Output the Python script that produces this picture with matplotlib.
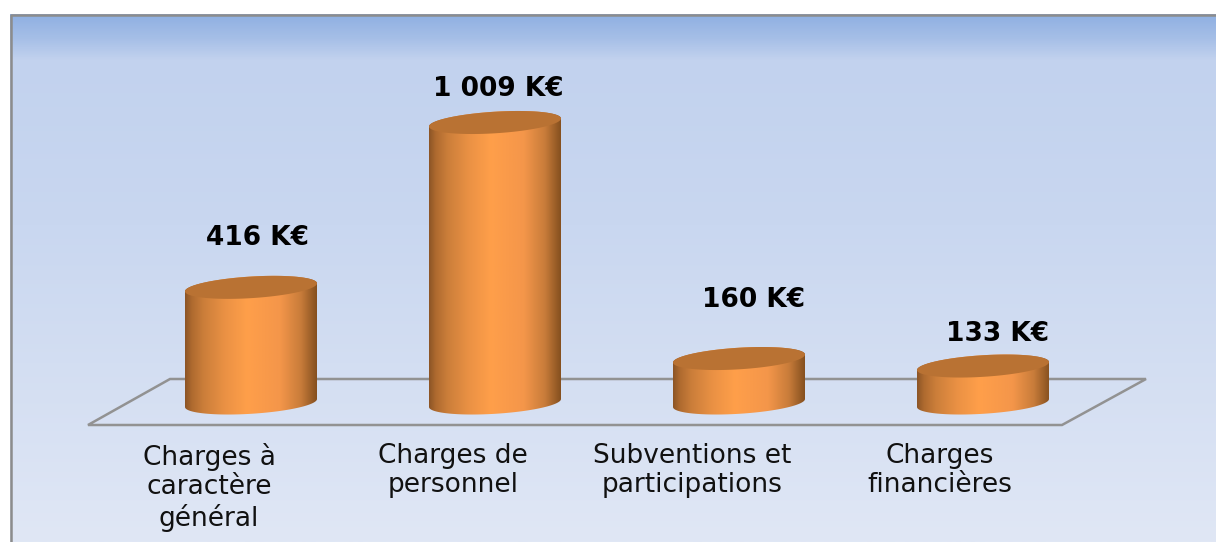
import matplotlib
matplotlib.use("Agg")
import matplotlib.pyplot as plt
import numpy as np
from matplotlib.colors import LinearSegmentedColormap
from matplotlib.patches import Polygon

# Chart data
categories = ["Charges à\ncaractère\ngénéral", "Charges de\npersonnel",
              "Subventions et\nparticipations", "Charges\nfinancières"]
values = [416, 1009, 160, 133]
value_labels = ["416 K€", "1 009 K€", "160 K€", "133 K€"]

plt.rcParams["font.family"] = ["DejaVu Sans"]

W, H = 1216, 542
fig = plt.figure(figsize=(W / 100, H / 100), dpi=100, facecolor="white")

# Background layer, in pixels
bg = fig.add_axes([0, 0, 1, 1])
bg.set_xlim(0, W)
bg.set_ylim(H, 0)
bg.axis("off")

sky = LinearSegmentedColormap.from_list(
    "sky",
    [(0.0, "#8fb0e2"), (0.045, "#a6bfe7"), (0.085, "#c2d2ee"),
     (0.4, "#c9d7f0"), (1.0, "#e0e7f5")],
)
bg.imshow(np.linspace(0, 1, 256).reshape(-1, 1), cmap=sky, aspect="auto",
          extent=(10, W, H, 14), zorder=0)
bg.set_xlim(0, W)
bg.set_ylim(H, 0)
bg.plot([10.5, 10.5, W], [H, 14.5, 14.5], color="#8c8c8c", lw=1.8, zorder=1)

# Floor of the 3D chart
bg.add_patch(Polygon([(88, 425), (170, 379), (1146, 379), (1062, 425)],
                     closed=True, fill=False, edgecolor="#929292", lw=1.8))

# Bars layer: x is the category index, y is the value in K€
ax = fig.add_axes([0, 0, 1, 1], facecolor="none")
px_per_cat = 244.0
px_per_k = 0.278
base_px_x = 251.0
base_px_y = 403.0
ax.set_xlim(-base_px_x / px_per_cat, (W - base_px_x) / px_per_cat)
ax.set_ylim((base_px_y - H) / px_per_k, base_px_y / px_per_k)
ax.axis("off")

half_w = 66.0 / px_per_cat
ell_b = 10.8 / px_per_k
ell_tilt = 4.0 / px_per_k

body_cmap = LinearSegmentedColormap.from_list(
    "body",
    [(0.0, "#8c5526"), (0.05, "#ae6a2f"), (0.14, "#cb7e3a"), (0.3, "#ea9144"),
     (0.47, "#ff9f4a"), (0.72, "#f4964a"), (0.88, "#c87c3a"), (1.0, "#85501f")],
)
t = np.linspace(0, 2 * np.pi, 200)

for i, val in enumerate(values):
    # lower half of the base ellipse, then the upper edge up to the top
    low = np.linspace(np.pi, 2 * np.pi, 100)
    xb = i + half_w * np.cos(low)
    yb = ell_b * np.sin(low) + ell_tilt * np.cos(low)
    up = np.linspace(0, np.pi, 100)
    xt = i + half_w * np.cos(up)
    yt = val + ell_b * np.sin(up) + ell_tilt * np.cos(up)
    body = Polygon(np.column_stack([np.r_[xb, xt], np.r_[yb, yt]]),
                   closed=True, transform=ax.transData, fc="none", ec="none")
    ax.add_patch(body)
    im = ax.imshow(np.linspace(0, 1, 256).reshape(1, -1), cmap=body_cmap,
                   aspect="auto", zorder=2,
                   extent=(i - half_w, i + half_w, -ell_b * 2, val + ell_b * 2))
    im.set_clip_path(body)
    ax.fill(i + half_w * np.cos(t), val + ell_b * np.sin(t) + ell_tilt * np.cos(t),
            color="#b97233", lw=0, zorder=3)

ax.set_xlim(-base_px_x / px_per_cat, (W - base_px_x) / px_per_cat)
ax.set_ylim((base_px_y - H) / px_per_k, base_px_y / px_per_k)

# Value labels, offsets in pixels from the top of each bar
label_dx = [6, 3, 15, 15]
label_dy = [49, 33, 59, 32]
for i, val in enumerate(values):
    ax.annotate(value_labels[i], (i, val),
                xytext=(label_dx[i] * 0.72, label_dy[i] * 0.72),
                textcoords="offset points", ha="center", va="center",
                fontsize=19, fontweight="bold", color="black", zorder=5)

# Category labels under the floor
cat_dx = [-42, -42, -47, -43]
for i, name in enumerate(categories):
    ax.annotate(name, (i, 0), xytext=(cat_dx[i] * 0.72, -40 * 0.72),
                textcoords="offset points", ha="center", va="top",
                fontsize=19, linespacing=1.17, color="#111111", zorder=5)

fig.savefig("out.png", dpi=100)
